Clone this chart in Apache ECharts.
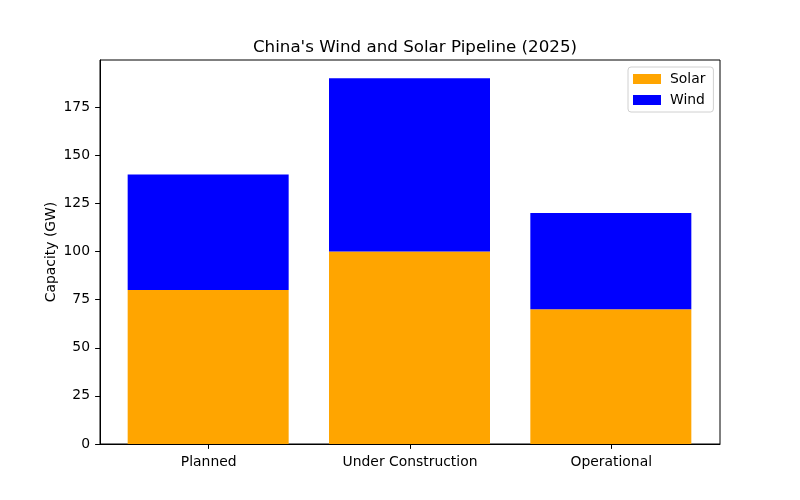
<!DOCTYPE html>
<html>
<head>
<meta charset="utf-8">
<script src="https://cdn.jsdelivr.net/npm/echarts@6/dist/echarts.min.js"></script>
<style>html,body{margin:0;padding:0;background:#fff}#c{width:800px;height:500px}</style>
</head>
<body>
<div id="c"></div>
<script>
const categories = ["Planned", "Under Construction", "Operational"];
const solar = [80, 100, 70];
const wind = [60, 90, 50];
const yTicks = [0, 25, 50, 75, 100, 125, 150, 175];
const xPositions = [0, 1, 2];

const font = "DejaVu Sans";
const chart = echarts.init(document.getElementById('c'), null, {renderer: 'canvas'});
const yMax = 199.5;
chart.setOption({
  animation: false,
  backgroundColor: '#fff',
  textStyle: {fontFamily: font},
  title: {
    text: "China's Wind and Solar Pipeline (2025)",
    left: 410, top: 34, textAlign: 'center',
    textStyle: {fontFamily: font, fontSize: 16.7, fontWeight: 'normal', color: '#000'}
  },
  legend: {
    data: ['Solar', 'Wind'],
    orient: 'vertical',
    left: 628, top: 67,
    itemWidth: 28, itemHeight: 10, itemGap: 7,
    icon: 'rect',
    borderColor: '#d0d0d0', borderWidth: 1, borderRadius: 3,
    padding: [5, 8, 5, 5],
    backgroundColor: 'rgba(255,255,255,0.8)',
    textStyle: {fontFamily: font, fontSize: 13.9, color: '#000', padding: [0, 0, 0, 4]}
  },
  grid: [
    {left: 100, right: 80, top: 60, bottom: 56,
     show: true, borderColor: '#000', borderWidth: 1, backgroundColor: 'transparent'},
    {left: 107.5, right: 88.5, top: 60, bottom: 56, show: false}
  ],
  xAxis: [
    {
      type: 'value', gridIndex: 0, min: -0.54, max: 2.54,
      splitLine: {show: false},
      axisLine: {show: true, onZero: false, lineStyle: {color: '#000', width: 1}},
      axisTick: {show: true, customValues: xPositions, length: 4.9, lineStyle: {color: '#000'}},
      axisLabel: {
        customValues: xPositions, margin: 11,
        formatter: v => categories[Math.round(v)],
        fontFamily: font, fontSize: 13.9, color: '#000'
      }
    },
    {
      type: 'category', gridIndex: 1, data: categories, boundaryGap: true,
      axisLine: {show: false}, axisTick: {show: false}, axisLabel: {show: false},
      splitLine: {show: false}
    }
  ],
  yAxis: [
    {
      type: 'value', gridIndex: 0, min: 0, max: yMax,
      name: 'Capacity (GW)', nameLocation: 'middle', nameGap: 42, nameMoveOverlap: false,
      nameTextStyle: {fontFamily: font, fontSize: 13.9, color: '#000'},
      splitLine: {show: false},
      axisLine: {show: true, onZero: false, lineStyle: {color: '#000', width: 1}},
      axisTick: {show: true, customValues: yTicks, length: 4.9, lineStyle: {color: '#000'}},
      axisLabel: {customValues: yTicks, margin: 10, fontFamily: font, fontSize: 13.9, color: '#000'}
    },
    {
      type: 'value', gridIndex: 1, min: 0, max: yMax,
      axisLine: {show: false}, axisTick: {show: false}, axisLabel: {show: false},
      splitLine: {show: false}
    }
  ],
  series: [
    {name: 'Solar', type: 'bar', stack: 'total', barWidth: 161,
     xAxisIndex: 1, yAxisIndex: 1,
     itemStyle: {color: '#FFA500'}, data: solar},
    {name: 'Wind', type: 'bar', stack: 'total', barWidth: 161,
     xAxisIndex: 1, yAxisIndex: 1,
     itemStyle: {color: '#0000FF'}, data: wind}
  ]
});
</script>
</body>
</html>
